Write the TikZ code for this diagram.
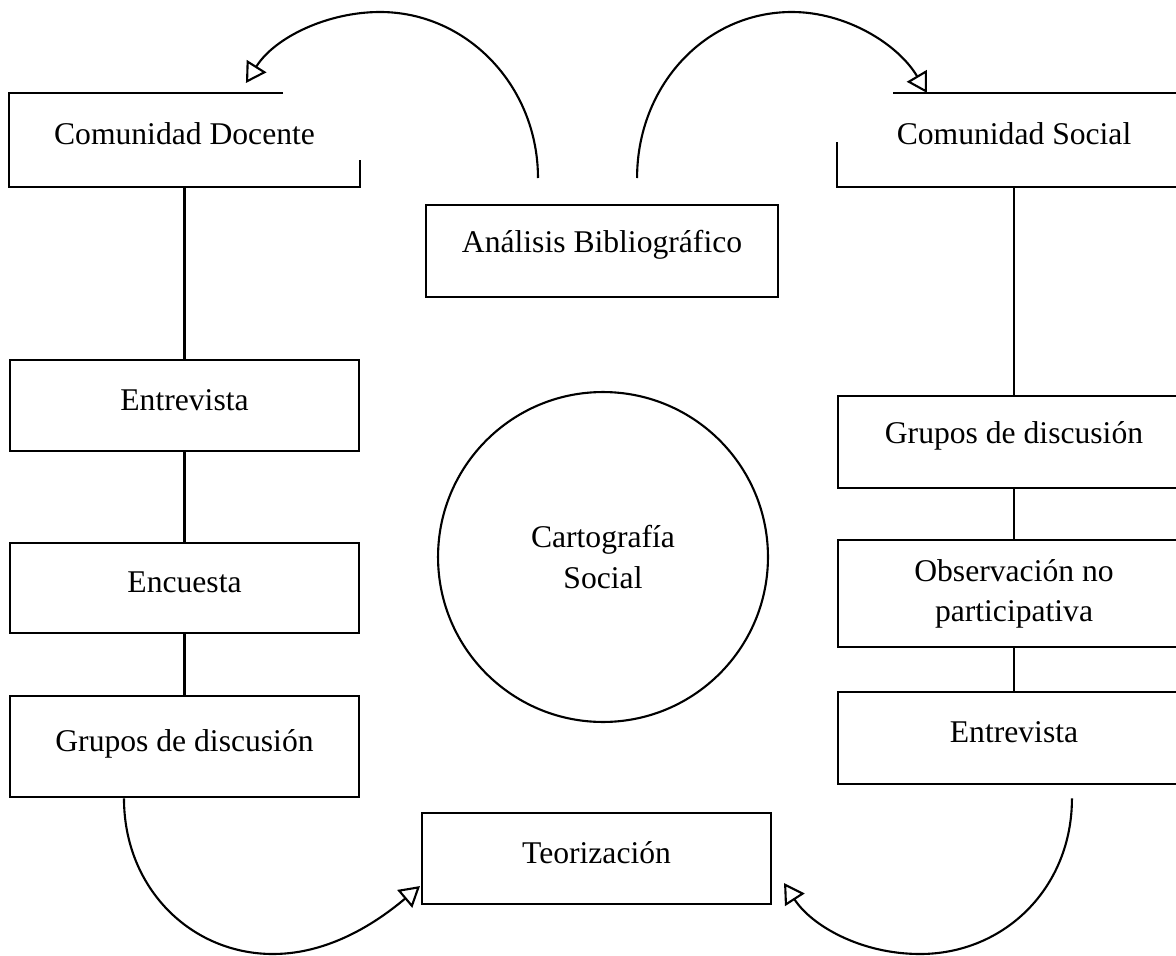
\documentclass[tikz,border=0pt]{standalone}
\usepackage{fontspec}
\setmainfont{Liberation Serif}
\usetikzlibrary{arrows.meta, positioning, calc}

\begin{document}
\begin{tikzpicture}[x=0.02cm, y=-0.02cm,
    % Styles
    every node/.style={font=\fontsize{18}{23}\selectfont},
    box/.style={draw, line width=1.2pt, minimum width=6.98cm, minimum height=1.82cm, inner sep=0, align=center,
        text height=0.5cm, text depth=0.32cm},
    wide box/.style={box, minimum width=7.04cm, minimum height=1.84cm},
    open box/.style={box, draw=none, minimum height=1.84cm},
    link/.style={line width=1.2pt},
    flow/.style={line width=1.2pt, -{Triangle[open, length=0.4cm, width=0.46cm, line width=1.2pt]}},
]
    \useasboundingbox (0,0) rectangle (1176,956);

    % === Left column: Comunidad Docente ===
    \node[open box, anchor=north west] (docente) at (9,93) {Comunidad Docente};
    \node[box, below=3.44cm of docente] (doc-entrevista) {Entrevista};
    \node[box, minimum height=1.8cm, below=1.8cm of doc-entrevista] (doc-encuesta) {Encuesta};
    \node[box, minimum height=2.02cm, below=1.22cm of doc-encuesta] (doc-grupos) {Grupos de discusión};

    % border of the top box is not closed
    \draw[link] ([xshift=-1.54cm]docente.north east) -- (docente.north west)
        -- (docente.south west) -- (docente.south east) -- ([yshift=0.54cm]docente.south east);

    \draw[link] (docente) -- (doc-entrevista);
    \draw[link] (doc-entrevista) -- (doc-encuesta);
    \draw[link] (doc-encuesta) -- (doc-grupos);

    % === Right column: Comunidad Social ===
    \node[open box, minimum width=7.04cm, anchor=north west] (social) at (837,93) {Comunidad Social};
    \node[wide box, text height=0.46cm, text depth=0.4cm, below=4.16cm of social] (soc-grupos) {Grupos de discusión};
    \node[wide box, text height={}, text depth={}, minimum height=2.14cm, below=1cm of soc-grupos] (soc-observacion) {Observación no\\participativa};
    \node[wide box, below=0.86cm of soc-observacion] (soc-entrevista) {Entrevista};

    \draw[link] ([xshift=1.12cm]social.north west) -- (social.north east)
        -- (social.south east) -- (social.south west) -- ([yshift=0.9cm]social.south west);

    \draw[link] (social) -- (soc-grupos);
    \draw[link] (soc-grupos) -- (soc-observacion);
    \draw[link] (soc-observacion) -- (soc-entrevista);

    % === Centre ===
    \node[wide box, text height=0.46cm, text depth=0.4cm, anchor=north west] (analisis) at (425,204) {Análisis Bibliográfico};
    \node[draw, circle, line width=1.2pt, minimum size=6.6cm, align=center] (cartografia) at (603,557) {Cartografía\\Social};
    \node[box, anchor=north west] (teorizacion) at (421,812) {Teorización};

    % === Curved arrows ===
    \coordinate (ab-out-l) at ([xshift=2.26cm, yshift=0.52cm]analisis.north west);
    \coordinate (ab-out-r) at ([xshift=-2.84cm, yshift=0.52cm]analisis.north east);
    \coordinate (doc-in) at ([xshift=4.74cm, yshift=0.2cm]docente.north west);
    \coordinate (soc-in) at ([xshift=1.8cm]social.north west);
    \coordinate (grp-out) at ([xshift=2.3cm]doc-grupos.south west);
    \coordinate (ent-out) at ([xshift=4.7cm, yshift=-0.26cm]soc-entrevista.south west);
    \coordinate (teo-in-l) at ([xshift=-0.02cm, yshift=-0.55cm]teorizacion.west);
    \coordinate (teo-in-r) at ([xshift=0.24cm, yshift=-0.49cm]teorizacion.east);
    \coordinate (top-l) at (380,12);
    \coordinate (top-r) at (792,12);
    \coordinate (bot-l) at (273,954);
    \coordinate (bot-r) at (920,954);

    \draw[flow] (ab-out-l) .. controls +(0,-92) and +(87,0) .. (top-l)
        .. controls +(-52,0) and +(29,-46) .. (doc-in);
    \draw[flow] (ab-out-r) .. controls +(0,-92) and +(-87,0) .. (top-r)
        .. controls +(54,0) and +(-29,-49) .. (soc-in);
    \draw[flow] (grp-out) .. controls +(0,90) and +(-82,0) .. (bot-l)
        .. controls +(60,0) and +(-38,32) .. (teo-in-l);
    \draw[flow] (ent-out) .. controls +(0,90) and +(84,0) .. (bot-r)
        .. controls +(-60,0) and +(27,42) .. (teo-in-r);
\end{tikzpicture}
\end{document}
